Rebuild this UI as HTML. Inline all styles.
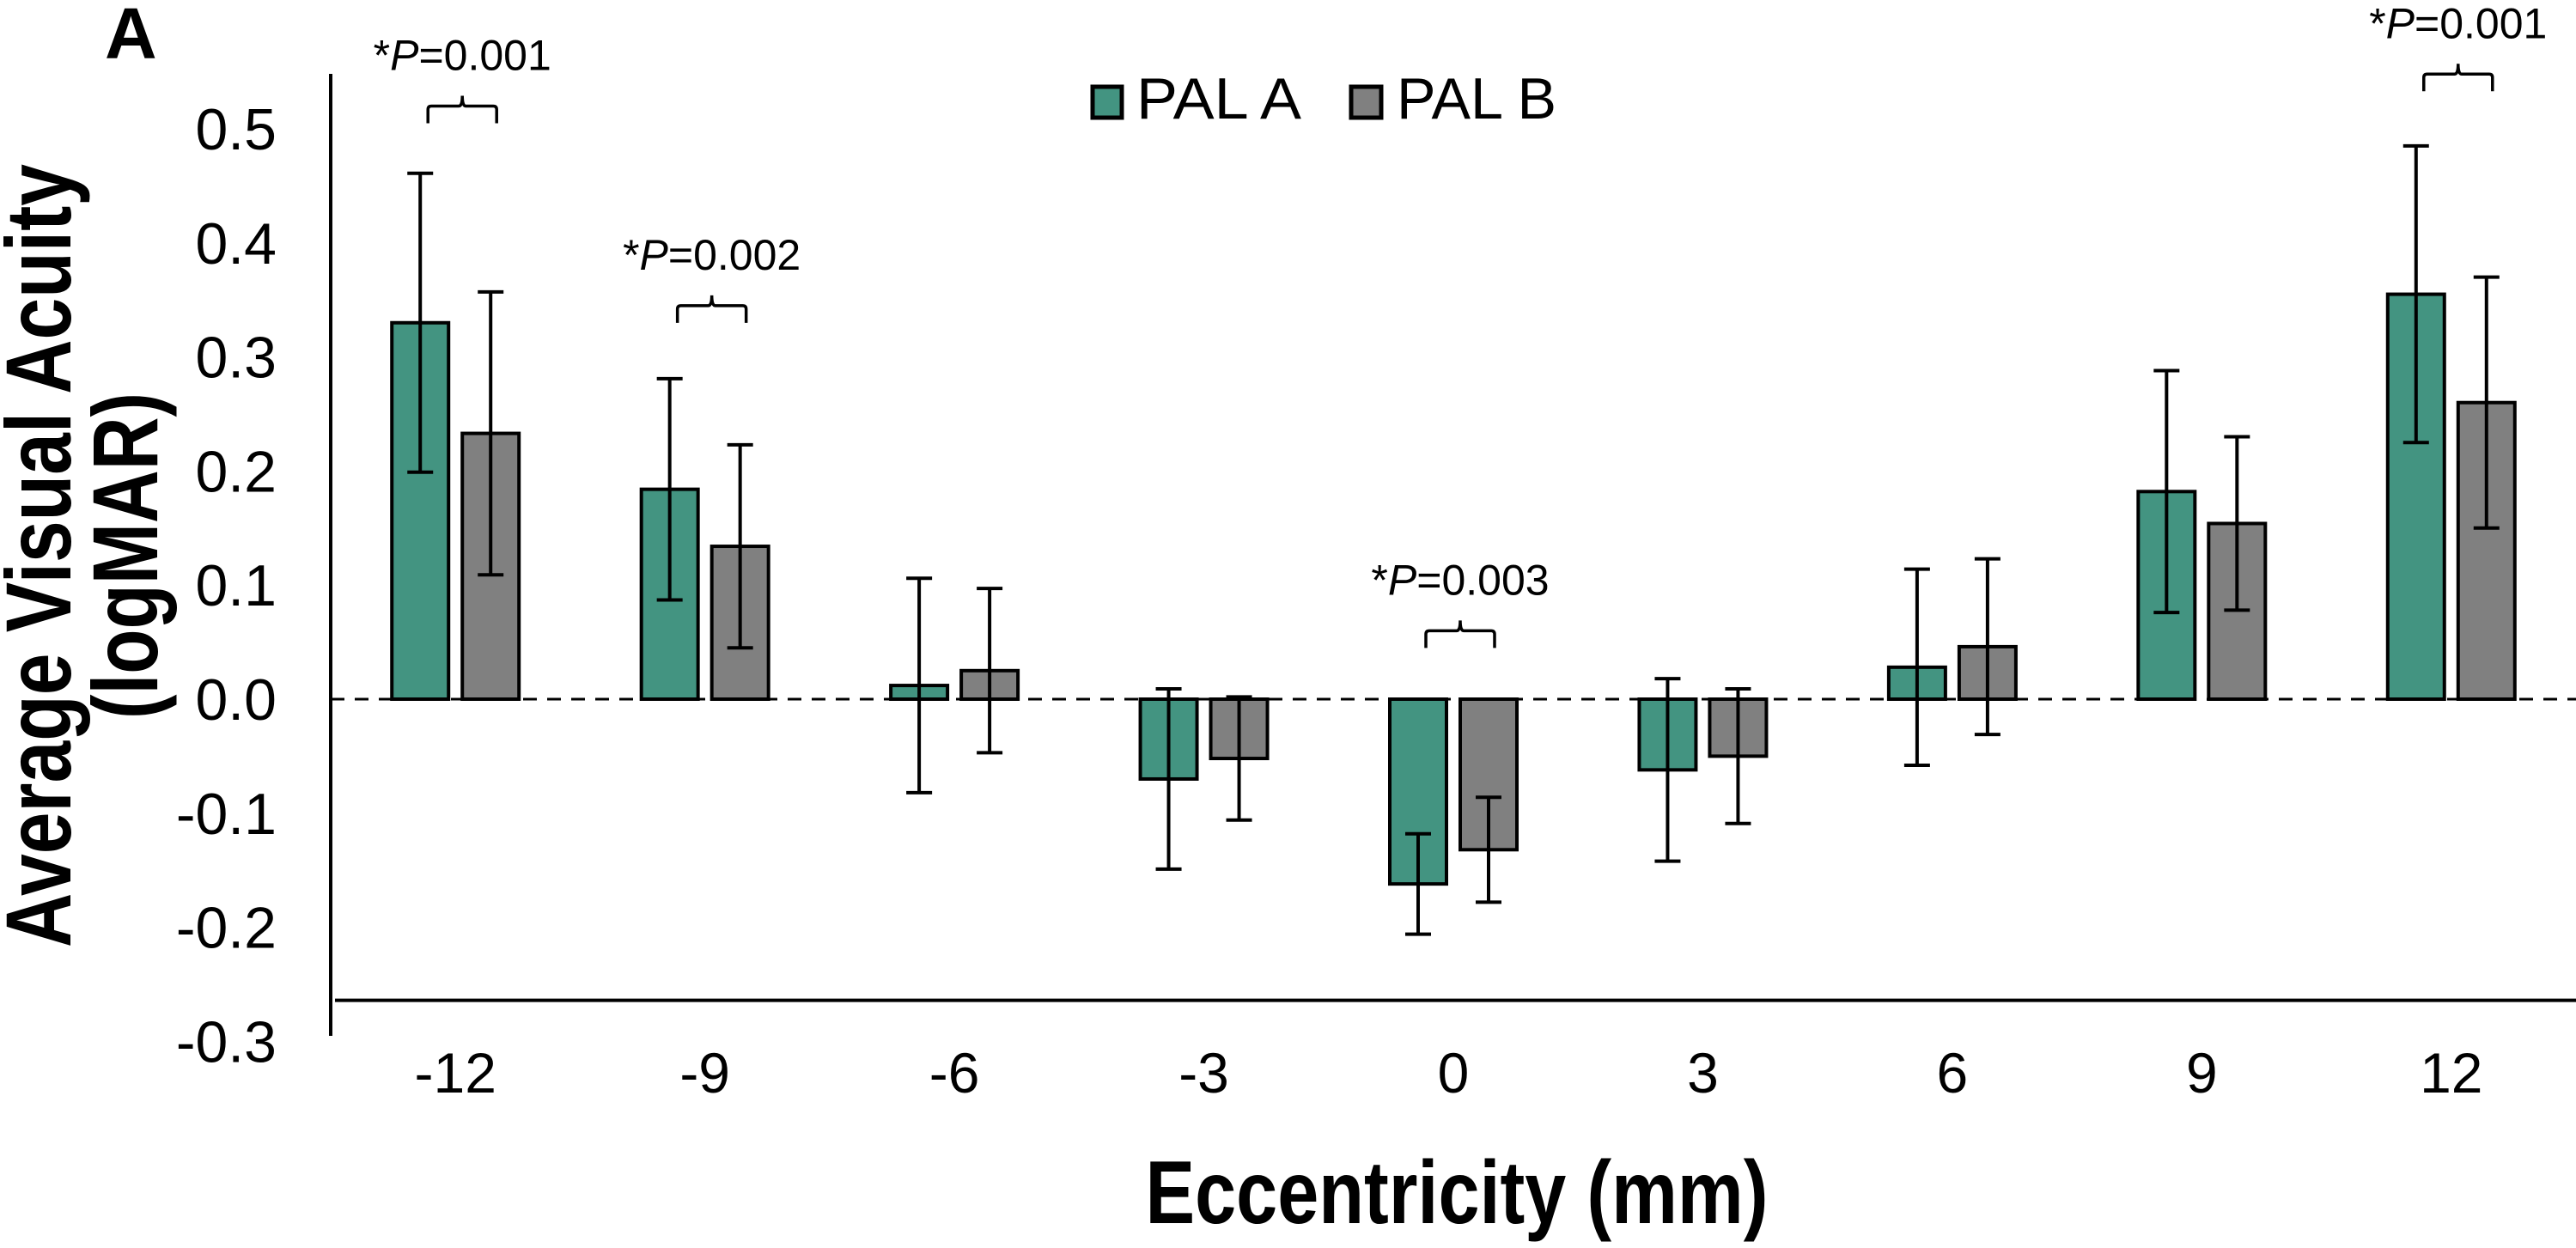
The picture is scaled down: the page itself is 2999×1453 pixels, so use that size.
<!DOCTYPE html>
<html><head><meta charset="utf-8"><style>
html,body{margin:0;padding:0;background:#fff;}
svg{display:block;font-family:"Liberation Sans",Arial,sans-serif;}
</style></head><body>
<svg id="chart" width="2999" height="1453" viewBox="0 0 2999 1453" xmlns="http://www.w3.org/2000/svg">
<text x="122" y="68" font-size="84" font-weight="bold">A</text>
<g id="yaxis-title">
<text transform="translate(82,647) rotate(-90)" text-anchor="middle" font-size="108" font-weight="bold" textLength="912" lengthAdjust="spacingAndGlyphs">Average Visual Acuity</text>
<text transform="translate(183,647) rotate(-90)" text-anchor="middle" font-size="108" font-weight="bold" textLength="380" lengthAdjust="spacingAndGlyphs">(logMAR)</text>
</g>
<text x="1696" y="1424" text-anchor="middle" font-size="104" font-weight="bold" textLength="725" lengthAdjust="spacingAndGlyphs">Eccentricity (mm)</text>
<g id="legend">
<rect x="1272" y="101" width="34" height="36" fill="#439481" stroke="#000" stroke-width="5"/>
<text x="1323" y="138" font-size="68" textLength="192" lengthAdjust="spacingAndGlyphs">PAL A</text>
<rect x="1573" y="101" width="35" height="36" fill="#808080" stroke="#000" stroke-width="5"/>
<text x="1626" y="138" font-size="68" textLength="186" lengthAdjust="spacingAndGlyphs">PAL B</text>
</g>
<g id="plot"></g>
</svg>
<script>
const categories = ["-12","-9","-6","-3","0","3","6","9","12"];
const palA = [0.33, 0.184, 0.012, -0.07, -0.162, -0.062, 0.028, 0.182, 0.355];
const palAErr = [0.131, 0.097, 0.094, 0.079, 0.044, 0.08, 0.086, 0.106, 0.13];
const palB = [0.233, 0.134, 0.025, -0.052, -0.132, -0.05, 0.046, 0.154, 0.26];
const palBErr = [0.124, 0.089, 0.072, 0.054, 0.046, 0.059, 0.077, 0.076, 0.11];
const yTicks = [0.5, 0.4, 0.3, 0.2, 0.1, 0.0, -0.1, -0.2, -0.3];
const yTickLabels = ["0.5","0.4","0.3","0.2","0.1","0.0","-0.1","-0.2","-0.3"];
const annotIdx = [0, 1, 4, 8];
const annotText = ["=0.001","=0.002","=0.003","=0.001"];
const annotY = [0.52, 0.345, 0.06, 0.548];

const NS = "http://www.w3.org/2000/svg";
const g = document.getElementById("plot");
const axisX = 385, plotRight = 2999;
const step = (plotRight - axisX) / categories.length;
function xCenter(i){ return axisX + (i + 0.5) * step; }
function yPos(v){ return 814 - v * 1328; }
function mk(tag, attrs){ const e = document.createElementNS(NS, tag); for (const k in attrs) e.setAttribute(k, attrs[k]); g.appendChild(e); return e; }

yTicks.forEach((t, i) => {
  const e = mk("text", {x: 322, y: yPos(t) + 24, "text-anchor": "end", "font-size": 68});
  e.textContent = yTickLabels[i];
  
  
});
categories.forEach((c, i) => {
  const e = mk("text", {x: xCenter(i), y: 1272, "text-anchor": "middle", "font-size": 66});
  e.textContent = c;
  
  
});
let ax = mk("line", {x1: axisX, y1: 86, x2: axisX, y2: 1206, stroke: "#000", "stroke-width": 4});


let bl = mk("line", {x1: 390, y1: yPos(-0.264), x2: plotRight, y2: yPos(-0.264), stroke: "#000", "stroke-width": 4});



const barW = 66, gap = 16;
function drawBar(i, v, err, color, off, name){
  const x = xCenter(i) + off;
  const y0 = yPos(0), y1 = yPos(v);
  const r = mk("rect", {x: x - barW/2, y: Math.min(y0, y1), width: barW, height: Math.abs(y1 - y0), fill: color, stroke: "#000", "stroke-width": 4});
  
  
  const yt = yPos(v + err), yb = yPos(v - err);
  const eb = mk("path", {d: `M${x},${yt}V${yb}M${x-15},${yt}H${x+15}M${x-15},${yb}H${x+15}`, stroke: "#000", "stroke-width": 4, fill: "none"});
  
  
}
categories.forEach((c, i) => {
  drawBar(i, palA[i], palAErr[i], "#439481", -(barW + gap)/2, "bar-pal-a");
  drawBar(i, palB[i], palBErr[i], "#808080", (barW + gap)/2, "bar-pal-b");
});
let zl = mk("line", {x1: axisX, y1: yPos(0), x2: plotRight, y2: yPos(0), stroke: "#000", "stroke-width": 3, "stroke-dasharray": "16 12"});



annotIdx.forEach((ci, k) => {
  const cx = xCenter(ci) + 8;
  const by = yPos(annotY[k]);
  const hw = 40;
  const br = mk("path", {d: `M${cx-hw},${by+20}V${by+4}Q${cx-hw},${by} ${cx-hw+4},${by}H${cx-4}Q${cx},${by} ${cx},${by-12}Q${cx},${by} ${cx+4},${by}H${cx+hw-4}Q${cx+hw},${by} ${cx+hw},${by+4}V${by+20}`, stroke: "#000", "stroke-width": 3.5, fill: "none"});
  
  
  const t = mk("text", {x: cx, y: by - 42, "text-anchor": "middle", "font-size": 50});
  t.innerHTML = '*<tspan font-style="italic">P</tspan>' + annotText[k];
  
  
});
</script>
</body></html>
